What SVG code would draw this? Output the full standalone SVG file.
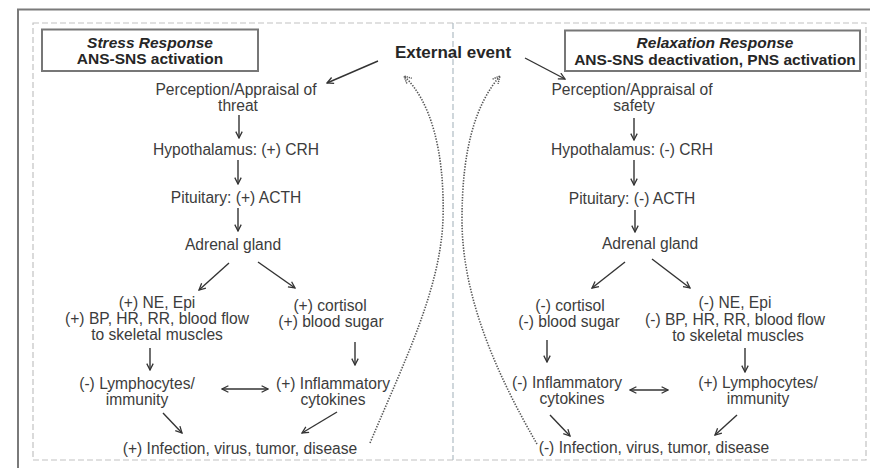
<svg xmlns="http://www.w3.org/2000/svg" width="870" height="468" viewBox="0 0 870 468">
<style>
.t{font-family:"Liberation Sans",Arial,sans-serif;font-size:15.6px;fill:#3c3c3c;text-anchor:middle}
.b{font-family:"Liberation Sans",Arial,sans-serif;font-size:15.5px;font-weight:bold;fill:#262626;text-anchor:middle}
.bi{font-style:italic}
.hdr{fill:#fff;stroke:#777;stroke-width:2}
.c{fill:none;stroke:#333;stroke-width:1.4}
.d{fill:none;stroke:#555;stroke-width:1.6;stroke-dasharray:1.4 1.4}
</style>
<defs>
<marker id="ah" viewBox="0 0 10 10" refX="9" refY="5" markerWidth="8" markerHeight="8" markerUnits="userSpaceOnUse" orient="auto-start-reverse">
<path d="M1,1 L9,5 L1,9" fill="none" stroke="#333" stroke-width="1.6"/>
</marker>
<marker id="ahd" viewBox="0 0 10 10" refX="9" refY="5" markerWidth="9" markerHeight="9" markerUnits="userSpaceOnUse" orient="auto">
<path d="M1,1 L9,5 L1,9" fill="none" stroke="#555" stroke-width="1.6" stroke-dasharray="1.4 1"/>
</marker>
</defs>
<rect width="870" height="468" fill="#fff"/>
<g id="frame">
<path d="M18,468 V9.5 H870" fill="none" stroke="#7a7a7a" stroke-width="2"/>
<rect x="33" y="23" width="833" height="437" fill="none" stroke="#c2c2c2" stroke-width="1.2" stroke-dasharray="6 3"/>
<line x1="453" y1="23" x2="453" y2="460" stroke="#b0bcc4" stroke-width="1.2" stroke-dasharray="6 3"/>
</g>
<g id="stress-header">
<rect class="hdr" x="42" y="29.5" width="216" height="41.5"/>
<text class="b bi" x="150" y="48">Stress Response</text>
<text class="b" x="150" y="64">ANS-SNS activation</text>
</g>
<g id="relax-header">
<rect class="hdr" x="565" y="30.5" width="295" height="40.5"/>
<text class="b bi" x="715" y="48">Relaxation Response</text>
<text class="b" x="715" y="65">ANS-SNS deactivation, PNS activation</text>
</g>
<g id="external-event"><text class="b" style="font-size:17px" x="453" y="58">External event</text></g>
<g id="s-perception"><text class="t" x="236" y="95">Perception/Appraisal of</text><text class="t" x="238" y="111">threat</text></g>
<g id="s-hypothalamus"><text class="t" x="236" y="155">Hypothalamus: (+) CRH</text></g>
<g id="s-pituitary"><text class="t" x="236" y="203">Pituitary: (+) ACTH</text></g>
<g id="s-adrenal"><text class="t" x="233" y="250">Adrenal gland</text></g>
<g id="s-ne"><text class="t" x="157" y="308">(+) NE, Epi</text><text class="t" x="157" y="324">(+) BP, HR, RR, blood flow</text><text class="t" x="157" y="340">to skeletal muscles</text></g>
<g id="s-cortisol"><text class="t" x="330" y="311">(+) cortisol</text><text class="t" x="331" y="327">(+) blood sugar</text></g>
<g id="s-lymph"><text class="t" x="137" y="389">(-) Lymphocytes/</text><text class="t" x="137" y="405">immunity</text></g>
<g id="s-inflam"><text class="t" x="333" y="389">(+) Inflammatory</text><text class="t" x="333" y="405">cytokines</text></g>
<g id="s-infection"><text class="t" x="240" y="454">(+) Infection, virus, tumor, disease</text></g>
<g id="r-perception"><text class="t" x="632" y="95">Perception/Appraisal of</text><text class="t" x="634" y="111">safety</text></g>
<g id="r-hypothalamus"><text class="t" x="632" y="155">Hypothalamus: (-) CRH</text></g>
<g id="r-pituitary"><text class="t" x="632" y="204">Pituitary: (-) ACTH</text></g>
<g id="r-adrenal"><text class="t" x="650" y="249">Adrenal gland</text></g>
<g id="r-cortisol"><text class="t" x="570" y="311">(-) cortisol</text><text class="t" x="569" y="327">(-) blood sugar</text></g>
<g id="r-ne"><text class="t" x="735" y="308">(-) NE, Epi</text><text class="t" x="735" y="325">(-) BP, HR, RR, blood flow</text><text class="t" x="738" y="341">to skeletal muscles</text></g>
<g id="r-inflam"><text class="t" x="567" y="388">(-) Inflammatory</text><text class="t" x="572" y="404">cytokines</text></g>
<g id="r-lymph"><text class="t" x="758" y="388">(+) Lymphocytes/</text><text class="t" x="758" y="404">immunity</text></g>
<g id="r-infection"><text class="t" x="654" y="453">(-) Infection, virus, tumor, disease</text></g>
<g id="connectors">
<line class="c" x1="378" y1="61" x2="327" y2="83" marker-end="url(#ah)"/>
<line class="c" x1="239" y1="115" x2="239" y2="138" marker-end="url(#ah)"/>
<line class="c" x1="238" y1="160" x2="238" y2="184" marker-end="url(#ah)"/>
<line class="c" x1="238" y1="208" x2="238" y2="231" marker-end="url(#ah)"/>
<line class="c" x1="229" y1="263" x2="199" y2="290" marker-end="url(#ah)"/>
<line class="c" x1="258" y1="262" x2="295" y2="288" marker-end="url(#ah)"/>
<line class="c" x1="150" y1="348" x2="150" y2="370" marker-end="url(#ah)"/>
<line class="c" x1="355" y1="342" x2="355" y2="365" marker-end="url(#ah)"/>
<line class="c" x1="222" y1="389" x2="268" y2="389" marker-start="url(#ah)" marker-end="url(#ah)"/>
<line class="c" x1="163" y1="413" x2="182" y2="433" marker-end="url(#ah)"/>
<line class="c" x1="337" y1="412" x2="302" y2="433" marker-end="url(#ah)"/>
<line class="c" x1="525" y1="58" x2="565" y2="79" marker-end="url(#ah)"/>
<line class="c" x1="634" y1="118" x2="634" y2="140" marker-end="url(#ah)"/>
<line class="c" x1="634" y1="160" x2="634" y2="185" marker-end="url(#ah)"/>
<line class="c" x1="635" y1="210" x2="635" y2="232" marker-end="url(#ah)"/>
<line class="c" x1="625" y1="262" x2="592" y2="288" marker-end="url(#ah)"/>
<line class="c" x1="652" y1="259" x2="690" y2="288" marker-end="url(#ah)"/>
<line class="c" x1="547" y1="340" x2="547" y2="362" marker-end="url(#ah)"/>
<line class="c" x1="745" y1="348" x2="745" y2="372" marker-end="url(#ah)"/>
<line class="c" x1="630" y1="390" x2="668" y2="390" marker-start="url(#ah)" marker-end="url(#ah)"/>
<line class="c" x1="550" y1="415" x2="570" y2="436" marker-end="url(#ah)"/>
<line class="c" x1="737" y1="415" x2="715" y2="435" marker-end="url(#ah)"/>
<path class="d" d="M370,443 C405,360 440,290 443,220 C445,150 430,100 404,76" marker-end="url(#ahd)"/>
<path class="d" d="M537,444 C500,380 462,300 462,220 C462,150 475,105 500,76" marker-end="url(#ahd)"/>
</g>
</svg>
